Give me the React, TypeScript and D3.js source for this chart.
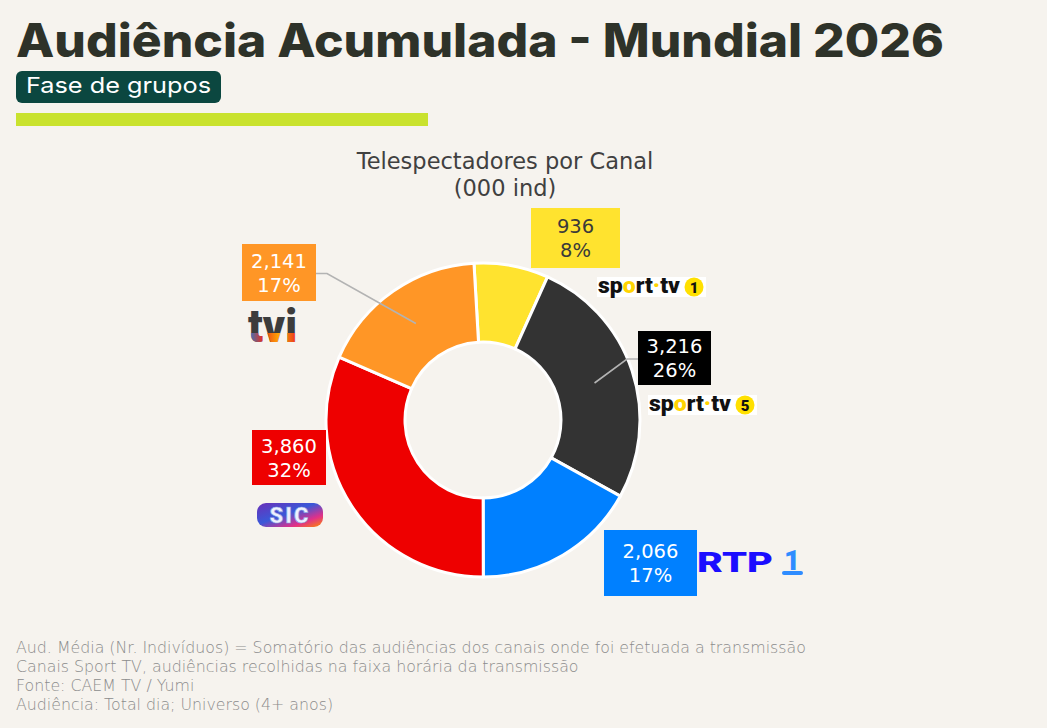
import React from 'react';
import * as d3 from 'd3';

const channels = ['Sport TV 1', 'Sport TV 5', 'RTP 1', 'SIC', 'TVI'];
const viewers = [936, 3216, 2066, 3860, 2141];
const percents = [8, 26, 17, 32, 17];
const sliceColors = ['#ffe32f', '#333333', '#0080ff', '#ee0000', '#ff9626'];
const labelTextColors = ['#3a3a3a', '#ffffff', '#ffffff', '#ffffff', '#ffffff'];
const boxColors = ['#ffe32f', '#000000', '#0080ff', '#ee0000', '#ff9626'];

const footnotes = [
  'Aud. Média (Nr. Indivíduos) = Somatório das audiências dos canais onde foi efetuada a transmissão',
  'Canais Sport TV, audiências recolhidas na faixa horária da transmissão',
  'Fonte: CAEM TV / Yumi',
  'Audiência: Total dia; Universo (4+ anos)',
];

// label box layout (x, y, w, h) per channel
const boxes = {
  'Sport TV 1': { x: 531, y: 208, w: 89, h: 60 },
  'Sport TV 5': { x: 638, y: 331, w: 73, h: 54 },
  'RTP 1': { x: 604, y: 530, w: 93, h: 66 },
  SIC: { x: 252, y: 430, w: 74, h: 55 },
  TVI: { x: 242, y: 244, w: 74, h: 57 },
};

const W = 1047;
const H = 728;
const cx = 483;
const cy = 420;
const outerR = 157;
const innerR = 78;
const startOffset = (-3.3 * Math.PI) / 180;

const labelFont = "'DejaVu Sans', Verdana, sans-serif";

function SportTvLogo({ x, y, num }) {
  return (
    <g transform={`translate(${x},${y})`}>
      <rect x={0} y={0} width={109} height={20} fill="#ffffff" />
      <text
        x={1}
        y={16}
        fontFamily="Roboto, sans-serif"
        fontWeight={900}
        fontSize={22}
        fill="#111"
        textLength={82}
        lengthAdjust="spacingAndGlyphs"
      >
        sp<tspan fill="#ffd400">o</tspan>rt<tspan fill="#ffd400">·</tspan>tv
      </text>
      <circle cx={97} cy={10} r={9.5} fill="#ffe000" />
      <text x={97} y={16} textAnchor="middle" fontFamily="Roboto, sans-serif" fontWeight={900} fontSize={15} fill="#111">
        {num}
      </text>
    </g>
  );
}

function App() {
  const pie = d3
    .pie<number>()
    .sort(null)
    .startAngle(startOffset)
    .endAngle(startOffset + 2 * Math.PI);
  const arcs = pie(viewers);
  const arc = d3.arc<d3.PieArcDatum<number>>().innerRadius(innerR).outerRadius(outerR);
  const fmt = d3.format(',');

  return (
    <svg
      width={W}
      height={H}
      style={{ position: 'absolute', left: 0, top: 0, display: 'block' }}
      xmlns="http://www.w3.org/2000/svg"
    >
      <defs>
        <linearGradient id="tviGrad" x1="0" x2="1" y1="0" y2="0">
          <stop offset="0%" stopColor="#1e7fd0" />
          <stop offset="30%" stopColor="#e83020" />
          <stop offset="65%" stopColor="#ffb000" />
          <stop offset="100%" stopColor="#e83020" />
        </linearGradient>
        <clipPath id="tviClip">
          <rect x={245} y={333} width={60} height={12} />
        </clipPath>
        <linearGradient id="sicGrad" x1="0" x2="1" y1="0" y2="1">
          <stop offset="0%" stopColor="#6a2fb8" />
          <stop offset="45%" stopColor="#3a58d8" />
          <stop offset="75%" stopColor="#e0308a" />
          <stop offset="100%" stopColor="#ff8a00" />
        </linearGradient>
      </defs>
      <rect x={0} y={0} width={W} height={H} fill="#f6f3ee" />

      {/* header */}
      <text
        x={16}
        y={57}
        fontFamily="Inter, 'Noto Sans', sans-serif"
        fontWeight={800}
        fontSize={46}
        fill="#2e3229"
        textLength={928}
        lengthAdjust="spacingAndGlyphs"
      >
        Audiência Acumulada - Mundial 2026
      </text>
      <rect x={16} y={71} width={205} height={32} rx={6} fill="#0b4740" />
      <text x={26} y={93} fontFamily="Inter, 'Noto Sans', sans-serif" fontSize={22} fill="#ffffff" textLength={185} lengthAdjust="spacingAndGlyphs">
        Fase de grupos
      </text>
      <rect x={16} y={113} width={412} height={13} fill="#c9e22e" />

      {/* chart title */}
      <text x={505} y={169} textAnchor="middle" fontFamily={labelFont} fontSize={22.5} fill="#404040">
        Telespectadores por Canal
      </text>
      <text x={505} y={196} textAnchor="middle" fontFamily={labelFont} fontSize={22.5} fill="#404040">
        (000 ind)
      </text>

      {/* donut */}
      <g transform={`translate(${cx},${cy})`}>
        {arcs.map((a, i) => (
          <path key={channels[i]} d={arc(a) || ''} fill={sliceColors[i]} stroke="#ffffff" strokeWidth={3} strokeLinejoin="round" />
        ))}
      </g>

      {/* leader lines for TVI and Sport TV 5 */}
      {arcs.map((a, i) => {
        const name = channels[i];
        if (name !== 'TVI' && name !== 'Sport TV 5') return null;
        const [px, py] = arc.centroid(a);
        const b = boxes[name];
        const ly = b.y + b.h / 2 + 1;
        const edgeX = name === 'TVI' ? b.x + b.w : b.x;
        const elbowX = name === 'TVI' ? edgeX + 11 : edgeX - 11;
        return (
          <polyline
            key={`l-${name}`}
            points={`${cx + px},${cy + py} ${elbowX},${ly} ${edgeX},${ly}`}
            fill="none"
            stroke="#b3b3b3"
            strokeWidth={1.6}
          />
        );
      })}

      {/* data labels */}
      {channels.map((name, i) => {
        const b = boxes[name];
        const mx = b.x + b.w / 2;
        const my = b.y + b.h / 2;
        return (
          <g key={`b-${name}`}>
            <rect x={b.x} y={b.y} width={b.w} height={b.h} fill={boxColors[i]} />
            <text x={mx} y={my - 5} textAnchor="middle" fontFamily={labelFont} fontSize={19.5} fill={labelTextColors[i]}>
              {fmt(viewers[i])}
            </text>
            <text x={mx} y={my + 19} textAnchor="middle" fontFamily={labelFont} fontSize={19.5} fill={labelTextColors[i]}>
              {percents[i]}%
            </text>
          </g>
        );
      })}

      {/* logos */}
      <SportTvLogo x={597} y={277} num="1" />
      <SportTvLogo x={648} y={395} num="5" />

      <text
        x={248}
        y={342}
        fontFamily="Roboto, sans-serif"
        fontWeight={900}
        fontSize={46}
        fill="#3c3c3c"
        textLength={49}
        lengthAdjust="spacingAndGlyphs"
      >
        tvi
      </text>
      <text
        x={248}
        y={342}
        fontFamily="Roboto, sans-serif"
        fontWeight={900}
        fontSize={46}
        fill="url(#tviGrad)"
        textLength={49}
        lengthAdjust="spacingAndGlyphs"
        clipPath="url(#tviClip)"
      >
        tvi
      </text>

      <rect x={257} y={503} width={66} height={24} rx={9} fill="url(#sicGrad)" />
      <text x={290} y={523} textAnchor="middle" fontFamily="Roboto, sans-serif" fontWeight={900} fontSize={22} fill="#eef0ff" stroke="#8aa0e0" strokeWidth={0.6} letterSpacing={2}>
        SIC
      </text>

      <text x={697} y={572} fontFamily="Roboto, sans-serif" fontWeight={900} fontSize={27} fill="#1a0dff" textLength={76} lengthAdjust="spacingAndGlyphs">
        RTP
      </text>
      <text x={792} y={570} textAnchor="middle" fontFamily="Roboto, sans-serif" fontWeight={900} fontSize={28} fill="#2e8cff">
        1
      </text>
      <rect x={782} y={571} width={21} height={4} rx={2} fill="#2e8cff" />

      {/* footnotes */}
      {footnotes.map((t, i) => (
        <text key={t} x={16} y={653 + i * 19} fontFamily="'DejaVu Sans', sans-serif" fontWeight={200} fontSize={15.8} fill="#8c8c8c">
          {t}
        </text>
      ))}
    </svg>
  );
}

export default App;
